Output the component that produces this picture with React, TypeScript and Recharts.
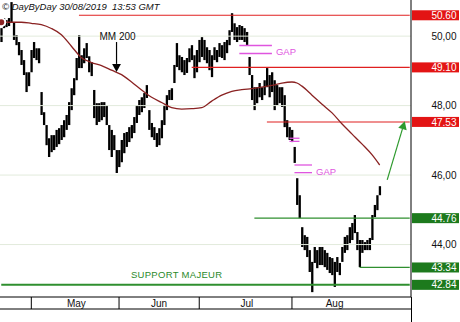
import React from 'react';
import { ComposedChart, Bar, Line, XAxis, YAxis, ReferenceLine, ReferenceDot } from 'recharts';

const FONT = 'Liberation Sans, Arial, sans-serif';
const RED = '#e31414';
const RED_LINE = '#e02020';
const GREEN = '#1d7a1d';
const GREEN_LINE = '#2f8f2f';
const MAROON = '#8a2222';
const MAGENTA = '#df55df';
const GRID = '#e2ebdc';

// half-session slots (about 2 per trading day), late April -> 30 Aug 2019
const TOTAL_SLOTS = 164;

const highs = [
  50.23, 50.52, 50.46, 50.52, 50.98, 50.40, 50.03, 49.83, 49.60, 49.31,
  48.96, 48.96, 49.60, 49.83, 49.65, 49.65, 48.39, 47.81, 47.44, 47.06,
  47.15, 47.15, 47.30, 47.35, 47.44, 47.58, 47.73, 48.10, 48.50, 48.79,
  49.37, 50.03, 49.45, 49.65, 49.80, 49.42, 49.25, 48.45, 48.07, 48.07,
  48.10, 48.10, 48.01, 47.44, 47.30, 47.15, 46.72, 46.72, 47.01, 47.21,
  47.24, 47.38, 47.44, 47.67, 48.01, 48.16, 48.24, 48.36, 48.59, 47.87,
  47.50, 47.38, 47.21, 47.35, 47.58, 48.01, 48.30, 48.45, 48.50, 49.17,
  49.80, 49.45, 49.40, 49.31, 49.37, 49.65, 49.74, 49.45, 49.60, 49.89,
  49.97, 49.89, 49.68, 49.60, 49.45, 49.68, 49.60, 49.80, 49.74, 49.83,
  49.89, 50.17, 50.66, 50.37, 50.26, 50.32, 50.29, 50.23, 50.12, 49.40,
  48.88, 48.53, 48.53, 48.65, 48.53, 48.73, 49.08, 48.88, 48.96, 48.73,
  48.59, 48.53, 48.53, 48.30, 47.58, 47.38, 47.30, 46.81, 45.91, 45.42,
  44.50, 44.27, 44.22, 43.84, 43.50, 43.93, 43.84, 43.93, 43.93, 43.84,
  43.76, 43.64, 43.61, 43.50, 43.64, 43.47, 43.93, 44.22, 44.27, 44.50,
  44.62, 44.85, 44.36, 44.13, 44.13, 44.07, 44.13, 44.19, 44.85, 45.14,
  45.42, 45.68,
];

const lows = [
  49.83, 50.23, 50.26, 50.29, 50.40, 49.89, 49.74, 49.45, 49.17, 48.88,
  48.39, 48.56, 48.96, 49.37, 49.31, 49.22, 47.73, 47.44, 46.86, 46.52,
  46.66, 46.72, 46.81, 46.89, 47.01, 47.09, 47.30, 47.44, 47.87, 48.30,
  48.73, 49.08, 49.08, 49.22, 49.37, 48.96, 48.85, 47.64, 47.44, 47.53,
  47.58, 47.67, 47.44, 46.72, 46.52, 46.72, 46.06, 46.23, 46.37, 46.63,
  46.81, 46.95, 47.06, 47.21, 47.50, 47.73, 47.81, 47.93, 48.22, 47.30,
  47.09, 47.01, 46.81, 46.86, 47.06, 47.44, 47.87, 48.16, 48.16, 48.65,
  49.11, 49.02, 48.96, 48.88, 48.94, 49.25, 49.31, 48.79, 48.96, 49.25,
  49.40, 49.31, 49.22, 49.02, 48.82, 49.31, 49.25, 49.40, 49.37, 49.31,
  49.51, 49.74, 50.12, 49.89, 49.83, 49.89, 49.89, 49.83, 49.74, 48.88,
  48.16, 47.87, 48.07, 48.24, 48.16, 48.30, 48.53, 48.24, 48.39, 47.87,
  48.01, 48.07, 47.96, 47.38, 47.09, 47.01, 46.95, 46.35, 45.14, 44.76,
  43.93, 43.84, 43.64, 43.21, 42.63, 43.47, 43.32, 43.41, 43.41, 43.35,
  43.27, 43.18, 43.12, 42.78, 43.21, 43.12, 43.50, 43.76, 43.84, 44.04,
  44.13, 44.33, 43.84, 43.35, 43.76, 43.84, 43.84, 43.84, 44.13, 44.79,
  44.99, 45.42,
];

// MM 200 (200-period moving average), read at these slots
const maSlots = [0, 4, 8, 12, 16, 20, 24, 28, 32, 36, 40, 44, 48, 52, 56, 60, 64, 68, 72, 76,
  80, 84, 88, 92, 96, 100, 104, 108, 112, 116, 118, 120, 124, 128, 132, 136, 140, 144, 148, 151];
const maValues = [50.40, 50.40, 50.40, 50.37, 50.33, 50.22, 50.04, 49.71, 49.38, 49.24,
  49.15, 49.02, 48.89, 48.68, 48.45, 48.24, 48.09, 47.94, 47.90, 47.91,
  47.94, 48.13, 48.30, 48.41, 48.46, 48.49, 48.53, 48.58, 48.65, 48.68,
  48.65, 48.56, 48.30, 48.04, 47.79, 47.47, 47.18, 46.89, 46.58, 46.29];

const monthBoundarySlots = [12, 47, 79, 116];
const monthLabels = ['May', 'Jun', 'Jul', 'Aug'];
const monthLabelSlots = [30, 63, 98, 133];

const gridLevels = [44, 46, 48, 50];
const resistanceLevels = [50.60, 49.10, 47.53];
const resistanceStarts = [31, 76, 106];
const supportLevels = [44.76, 43.34, 42.84];
const supportStarts = [101, 143, 0];

const gapJuly = { from: 95, to: 108, top: 49.73, bottom: 49.50 };
const gapSmall = { from: 115, to: 119, top: 47.06, bottom: 46.97 };
const gapAug = { from: 117, to: 124, top: 46.29, bottom: 46.07 };

const maArrow = { slot: 46, from: 49.83, to: 48.97 };
const targetArrow = { fromSlot: 154, fromY: 45.86, toSlot: 161, toY: 47.55 };
const supportLabel = { slot: 70, y: 43.14 };

const data = Array.from({ length: TOTAL_SLOTS }, (_, i) => {
  const k = maSlots.indexOf(i);
  return {
    slot: i,
    hl: i < highs.length ? [lows[i], highs[i]] : null,
    ma: k >= 0 ? maValues[k] : null,
  };
});

const yTicks = [...gridLevels, ...resistanceLevels, ...supportLevels];

const YTick = (props: any) => {
  const { x, y, payload } = props;
  const v = payload.value as number;
  const isRes = resistanceLevels.includes(v);
  const isSup = supportLevels.includes(v);
  if (isRes || isSup) {
    return (
      <g>
        <rect x={x + 1} y={y - 5} width={47} height={10} fill={isRes ? RED : GREEN} />
        <text x={x + 45.5} y={y + 3.6} textAnchor="end" fill="#fff" fontSize={10} fontFamily={FONT}>
          {v.toFixed(2)}
        </text>
      </g>
    );
  }
  return (
    <text x={x + 45.5} y={y + 3.6} textAnchor="end" fill="#111" fontSize={10} fontFamily={FONT}>
      {v.toFixed(2).replace('.', ',')}
    </text>
  );
};

const MonthTick = (props: any) => {
  const { x, y, payload } = props;
  const v = payload.value;
  if (monthBoundarySlots.includes(v)) {
    return <line x1={x} x2={x} y1={y} y2={y + 12} stroke="#000" strokeWidth={1} />;
  }
  const li = monthLabelSlots.indexOf(v);
  return (
    <text x={x} y={y + 10} textAnchor="middle" fill="#111" fontSize={10} fontFamily={FONT}>
      {monthLabels[li]}
    </text>
  );
};

// high-low bar, drawn slightly narrower than its slot
const HLBar = (p: any) => {
  const { x, y, width, height } = p;
  if (height == null || width == null) return null;
  const w = 2.3;
  return <rect x={x + width / 2 - w / 2} y={y} width={w} height={Math.max(height, 1)} fill="#000" />;
};

const makeArrow = (color: string, head: number, label?: string) => (p: any) => {
  const { x1, y1, x2, y2 } = p;
  const dx = x2 - x1;
  const dy = y2 - y1;
  const len = Math.sqrt(dx * dx + dy * dy) || 1;
  const ux = dx / len;
  const uy = dy / len;
  const bx = x2 - ux * head;
  const by = y2 - uy * head;
  const hw = head * 0.55;
  const pts = `${x2},${y2} ${bx - uy * hw},${by + ux * hw} ${bx + uy * hw},${by - ux * hw}`;
  return (
    <g>
      <line x1={x1} y1={y1} x2={bx} y2={by} stroke={color} strokeWidth={1.2} />
      <polygon points={pts} fill={color} />
      {label ? (
        <text x={x1 + 1} y={y1 - 2} textAnchor="middle" fill="#111" fontSize={10} fontFamily={FONT}>
          {label}
        </text>
      ) : null}
    </g>
  );
};

const gapLabel = (p: any) => {
  const vb = p.viewBox || {};
  return (
    <text x={vb.x + vb.width + 4} y={vb.y + 2} fill={MAGENTA} fontSize={9.5} fontFamily={FONT}>
      GAP
    </text>
  );
};

const GapLines = (g: { from: number; to: number; top: number; bottom: number }, label: boolean, key: string) => [
  <ReferenceLine
    key={key + 't'}
    segment={[{ x: g.from, y: g.top }, { x: g.to, y: g.top }]}
    stroke={MAGENTA}
    strokeWidth={1.3}
  />,
  <ReferenceLine
    key={key + 'b'}
    segment={[{ x: g.from, y: g.bottom }, { x: g.to, y: g.bottom }]}
    stroke={MAGENTA}
    strokeWidth={1.3}
    label={label ? gapLabel : undefined}
  />,
];

export default function App() {
  return (
    <div style={{ position: 'absolute', left: 0, top: 0, width: 460, height: 322, background: '#fff' }}>
      <ComposedChart
        width={460}
        height={322}
        data={data}
        margin={{ top: 0, right: 0, bottom: 0, left: 0 }}
        barCategoryGap={0}
        barGap={0}
      >
        <XAxis
          dataKey="slot"
          type="category"
          ticks={[...monthBoundarySlots, ...monthLabelSlots]}
          interval={0}
          tick={MonthTick}
          tickLine={false}
          tickSize={0}
          tickMargin={0}
          axisLine={{ stroke: '#000' }}
          height={12}
        />
        <XAxis
          xAxisId="band"
          dataKey="slot"
          type="category"
          tick={false}
          tickLine={false}
          axisLine={{ stroke: '#000' }}
          height={13}
        />
        <YAxis
          orientation="right"
          type="number"
          domain={[42.49, 51.04]}
          allowDataOverflow
          ticks={yTicks}
          interval={0}
          tick={YTick}
          tickLine={false}
          tickSize={0}
          tickMargin={0}
          axisLine={{ stroke: '#000' }}
          width={49}
        />

        {gridLevels.map((v) => (
          <ReferenceLine key={'g' + v} y={v} stroke={GRID} strokeWidth={1} />
        ))}

        {resistanceLevels.map((v, i) => (
          <ReferenceLine
            key={'r' + v}
            segment={[{ x: resistanceStarts[i], y: v }, { x: TOTAL_SLOTS - 1, y: v }]}
            stroke={RED_LINE}
            strokeWidth={1.1}
          />
        ))}
        {supportLevels.map((v, i) => (
          <ReferenceLine
            key={'s' + v}
            segment={[{ x: supportStarts[i], y: v }, { x: TOTAL_SLOTS - 1, y: v }]}
            stroke={GREEN_LINE}
            strokeWidth={i === 2 ? 2 : 1.2}
          />
        ))}

        <Bar dataKey="hl" fill="#000" shape={HLBar} isAnimationActive={false} />
        <Line
          dataKey="ma"
          type="monotone"
          stroke={MAROON}
          strokeWidth={1.3}
          dot={false}
          connectNulls
          isAnimationActive={false}
        />

        {GapLines(gapJuly, true, 'gj')}
        {GapLines(gapSmall, false, 'gs')}
        {GapLines(gapAug, true, 'ga')}

        <ReferenceLine
          segment={[{ x: maArrow.slot, y: maArrow.from }, { x: maArrow.slot, y: maArrow.to }]}
          shape={makeArrow('#000', 8, 'MM 200')}
        />
        <ReferenceLine
          segment={[{ x: targetArrow.fromSlot, y: targetArrow.fromY }, { x: targetArrow.toSlot, y: targetArrow.toY }]}
          shape={makeArrow('#2e9a2e', 8)}
        />
        <ReferenceDot
          x={supportLabel.slot}
          y={supportLabel.y}
          r={0}
          fill="none"
          stroke="none"
          label={{ value: 'SUPPORT MAJEUR', position: 'center', fill: '#2a8a2a', fontSize: 9.5, fontFamily: FONT, letterSpacing: 0.3 }}
        />

        <text x={2} y={9.5} fontSize={9.5} fontStyle="italic" fontFamily={FONT} fill="#111">
          © DayByDay 30/08/2019{'\u00a0'} 13:53 GMT
        </text>
        <line x1={411.5} x2={411.5} y1={297} y2={322} stroke="#000" />
      </ComposedChart>
    </div>
  );
}
